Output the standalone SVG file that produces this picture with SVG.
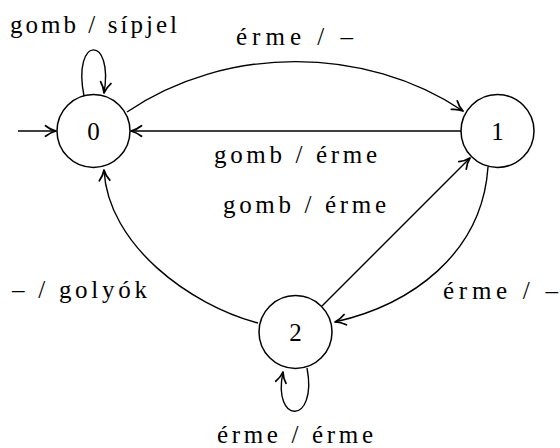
<svg xmlns="http://www.w3.org/2000/svg" width="560" height="448" viewBox="0 0 560 448">
<style>
  .node circle { fill: #fff; stroke: #000; stroke-width: 1.5; }
  .node text, .lbl { font-size: 25px; fill: #000; text-anchor: middle; }
  .edge { fill: none; stroke: #000; stroke-width: 1.4; marker-end: url(#arr); }
</style>
<defs>
  <marker id="arr" markerUnits="userSpaceOnUse" markerWidth="14" markerHeight="14" viewBox="-11 -6 12 12" refX="0" refY="0" orient="auto">
    <path d="M -9 -4.5 C -6 -2, -2.5 -0.6, 0 0 C -2.5 0.6, -6 2, -9 4.5" fill="none" stroke="#000" stroke-width="1.5" stroke-linecap="round" stroke-linejoin="round"/>
  </marker>
</defs>
<g id="connectors">
  <path class="edge" d="M 18 131 L 56 131"/>
  <path class="edge" d="M 84 96 C 72 35, 114 35, 104 93"/>
  <path class="edge" d="M 127 112 C 225 45, 365 45, 463 111"/>
  <path class="edge" d="M 461 131 L 131 131"/>
  <path class="edge" d="M 488 167 C 482 255, 410 305, 335 322"/>
  <path class="edge" d="M 322 306 L 470 158"/>
  <path class="edge" d="M 258 323 C 190 305, 108 245, 104 170"/>
  <path class="edge" d="M 307 368 C 318 425, 272 425, 283 372"/>
</g>
<g font-family="Liberation Serif, serif">
<g id="node0" class="node"><circle cx="93.5" cy="131" r="36.5"/><text x="93.5" y="140">0</text></g>
<g id="node1" class="node"><circle cx="497.5" cy="131" r="36.5"/><text x="497.5" y="140">1</text></g>
<g id="node2" class="node"><circle cx="295.5" cy="332" r="36.5"/><text x="295.5" y="341">2</text></g>
<g id="labels">
  <text class="lbl" x="93.5" y="33" textLength="167" lengthAdjust="spacing">gomb / sípjel</text>
  <text class="lbl" x="294.5" y="45" textLength="117" lengthAdjust="spacing">érme / –</text>
  <text class="lbl" x="295.5" y="163" textLength="163" lengthAdjust="spacing">gomb / érme</text>
  <text class="lbl" x="304.5" y="213" textLength="163" lengthAdjust="spacing">gomb / érme</text>
  <text class="lbl" x="79.5" y="298" textLength="135" lengthAdjust="spacing">– / golyók</text>
  <text class="lbl" x="500.5" y="299" textLength="115" lengthAdjust="spacing">érme / –</text>
  <text class="lbl" x="295" y="443" textLength="156" lengthAdjust="spacing">érme / érme</text>
</g>
</g>
</svg>
